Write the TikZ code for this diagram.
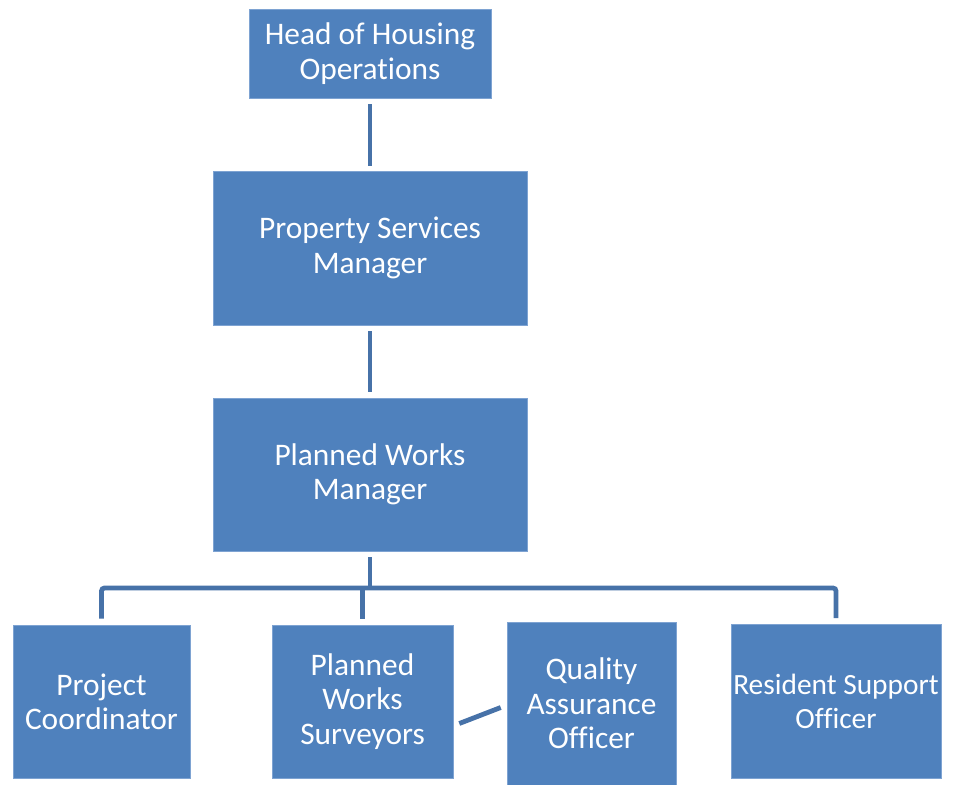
\documentclass[tikz,border=0pt]{standalone}
\usepackage{fontspec}
\setmainfont{Carlito}[Ligatures={NoCommon}]
\definecolor{boxblue}{HTML}{4F81BD}
\definecolor{boxedge}{HTML}{7EA3D2}
\definecolor{linkblue}{HTML}{4772A8}
\tikzset{
  orgbox/.style={rectangle, fill=boxblue, draw=boxedge, line width=0.6bp, text=white,
    align=center, inner sep=0pt, font=\fontsize{31.5}{34.5}\selectfont},
  conn/.style={draw=linkblue, line width=4.8bp},
}
\begin{document}
\begin{tikzpicture}[x=1bp,y=-1bp]
\useasboundingbox (0,0) rectangle (954,785);
\node[orgbox, minimum width=242bp, minimum height=89bp] (head) at (370,53.5) {Head of Housing\\Operations};
\node[orgbox, minimum width=314bp, minimum height=154bp] (psm) at (370,248) {Property Services\\Manager};
\node[orgbox, minimum width=314bp, minimum height=153bp] (pwm) at (370,474.5) {Planned Works\\Manager};
\node[orgbox, minimum width=177bp, minimum height=153bp] (pc) at (101.5,701.5) {Project\\Coordinator};
\node[orgbox, minimum width=181bp, minimum height=153bp] (surv) at (362.5,701.5) {Planned\\Works\\Surveyors};
\node[orgbox, minimum width=169bp, minimum height=163bp] (qa) at (591.5,703.5) {Quality\\Assurance\\Officer};
\node[orgbox, minimum width=210bp, minimum height=154bp, font=\fontsize{29.5}{34.5}\selectfont] (rso) at (836,701.5) {Resident Support\\Officer};
\coordinate (bus) at (370,588);
\draw[conn, shorten <=6bp, shorten >=5bp] (head) -- (psm);
\draw[conn, shorten <=6bp, shorten >=6bp] (psm) -- (pwm);
\draw[conn, shorten <=6bp] (pwm) -- (pwm |- bus);
\draw[conn, rounded corners=3bp] ([yshift=6bp]pc.north) -- (pc.north |- bus) -- (rso.north |- bus) -- ([yshift=6bp]rso.north);
\draw[conn] ([yshift=6bp]surv.north) -- (surv.north |- bus);
\draw[conn] ([shift={(6,22)}]surv.east) -- ([shift={(-6,4)}]qa.west);
\end{tikzpicture}
\end{document}
